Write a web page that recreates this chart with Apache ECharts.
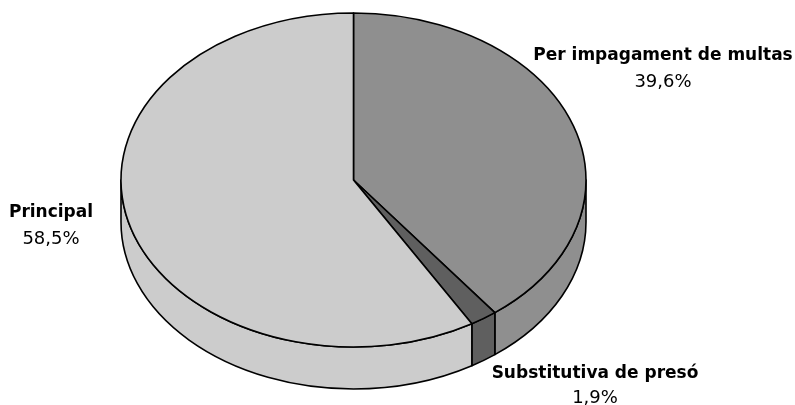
<!DOCTYPE html>
<html><head><meta charset="utf-8">
<style>html,body{margin:0;padding:0;background:#fff}#c{width:795px;height:405px}</style>
<script src="https://cdn.jsdelivr.net/npm/echarts@6/dist/echarts.min.js"></script>
</head><body><div id="c"></div>
<script>
const categories = ['Per impagament de multas', 'Substitutiva de presó', 'Principal'];
const values = [39.6, 1.9, 58.5];

const sliceColors = ['#8f8f8f', '#5f5f5f', '#cccccc'];
const BOLD = 'bold 17px "DejaVu Sans", sans-serif';
const REG = '18px "DejaVu Sans", sans-serif';
const layout = {
  cx: 353.5, cy: 180, rx: 232.5, ry: 167, depth: 42,
  labels: [{x: 663, y: 56, gap: 26}, {x: 595, y: 374, gap: 24}, {x: 51, y: 213, gap: 26}]
};
const total = values.reduce((a, b) => a + b, 0);
const starts = []; let acc = 0;
values.forEach(v => { starts.push(acc); acc += v; });
const pt = (deg, dy) => {
  const r = deg * Math.PI / 180;
  return [layout.cx + layout.rx * Math.sin(r), layout.cy - layout.ry * Math.cos(r) + (dy || 0)];
};
const edge = {stroke: '#000', lineWidth: 1.6, lineJoin: 'round'};
function sidePath(a0, a1) {
  const p = pt(a0), q = pt(a1), q2 = pt(a1, layout.depth), p2 = pt(a0, layout.depth);
  const large = a1 - a0 > 180 ? 1 : 0;
  return `M${p} A${layout.rx} ${layout.ry} 0 ${large} 1 ${q} L${q2} A${layout.rx} ${layout.ry} 0 ${large} 0 ${p2} Z`;
}
function topPath(a0, a1) {
  const p = pt(a0), q = pt(a1);
  const large = a1 - a0 > 180 ? 1 : 0;
  return `M${layout.cx} ${layout.cy} L${p} A${layout.rx} ${layout.ry} 0 ${large} 1 ${q} Z`;
}
function renderItem(params, api) {
  const i = api.value(1);
  const a0 = starts[i] / total * 360;
  const a1 = a0 + api.value(0) / total * 360;
  const fill = sliceColors[i];
  const children = [];
  const s0 = Math.max(a0, 90), s1 = Math.min(a1, 270);
  if (s1 > s0) children.push({type: 'path', shape: {pathData: sidePath(s0, s1)}, style: Object.assign({fill}, edge)});
  children.push({type: 'path', shape: {pathData: topPath(a0, a1)}, style: Object.assign({fill}, edge)});
  const l = layout.labels[i];
  children.push({type: 'text', style: {x: l.x, y: l.y, text: categories[i], align: 'center', verticalAlign: 'middle',
    font: BOLD, fill: '#000'}});
  children.push({type: 'text', style: {x: l.x, y: l.y + l.gap, text: api.value(0).toFixed(1).replace('.', ',') + '%',
    align: 'center', verticalAlign: 'middle', font: REG, fill: '#000'}});
  return {type: 'group', children};
}
const chart = echarts.init(document.getElementById('c'), null, {renderer: 'canvas'});
chart.setOption({
  animation: false,
  backgroundColor: '#fff',
  series: [{type: 'custom', coordinateSystem: 'none', renderItem,
    data: values.map((v, i) => [v, i])}]
});
</script></body></html>
